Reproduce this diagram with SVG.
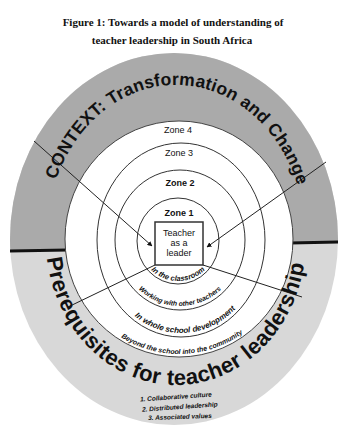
<svg xmlns="http://www.w3.org/2000/svg" width="344" height="430" viewBox="0 0 344 430">
<style>
.title{font-family:"Liberation Serif",serif;font-weight:bold;font-size:11px;fill:#111;text-anchor:middle}
.big{font-family:"Liberation Sans",Arial,sans-serif;font-weight:bold;fill:#111}
.zone{font-family:"Liberation Sans",Arial,sans-serif;font-size:9px;fill:#111;text-anchor:middle}
.arc{font-family:"Liberation Sans",Arial,sans-serif;font-weight:bold;font-style:italic;fill:#111}
.ring{fill:none;stroke:#333;stroke-width:1}
.conn{stroke:#222;stroke-width:1;fill:none}
.list{font-family:"Liberation Sans",Arial,sans-serif;font-weight:bold;font-style:italic;font-size:6.5px;fill:#111;text-anchor:middle}
</style>
<defs>
<clipPath id="upper"><polygon points="0,0 344,0 344,242 0,252"/></clipPath>
<marker id="ah" viewBox="0 0 10 10" refX="9" refY="5" markerWidth="5" markerHeight="5" orient="auto"><path d="M0,0 L10,5 L0,10 z" fill="#111"/></marker>
<path id="pTop" d="M56,180 A130,155 0 0 1 299,190"/>
<path id="pBot" d="M47,258 A130,145 0 0 0 305,258"/>
<path id="pZ1" d="M139,241 A39,40 0 0 0 217,241"/>
<path id="pZ2" d="M118,240 A62,66 0 0 0 242,240"/>
<path id="pZ3" d="M100,240 A81,93 0 0 0 262,240"/>
<path id="pZ4" d="M68,240 A111,114 0 0 0 290,240"/>
</defs>
<rect width="344" height="430" fill="#ffffff"/>
<g id="title">
<text class="title" x="173" y="26">Figure 1: Towards a model of understanding of</text>
<text class="title" x="172" y="44">teacher leadership in South Africa</text>
</g>
<g id="prerequisites">
<ellipse cx="174" cy="239" rx="164" ry="186" fill="#d8d8d8"/>
</g>
<g id="context">
<ellipse cx="174" cy="239" rx="164" ry="186" fill="#aaaaaa" clip-path="url(#upper)"/>
<line x1="10" y1="251" x2="68" y2="250" stroke="#111" stroke-width="3"/>
<line x1="290" y1="243" x2="338" y2="242" stroke="#111" stroke-width="3"/>
</g>
<g id="zone4">
<ellipse cx="179" cy="239" rx="114" ry="118" fill="#ffffff" stroke="#444" stroke-width="1"/>
<text class="zone" x="178" y="133">Zone 4</text>
</g>
<g id="zone3">
<ellipse class="ring" cx="181" cy="240" rx="84" ry="97"/>
<text class="zone" x="179" y="156">Zone 3</text>
</g>
<g id="zone2">
<ellipse class="ring" cx="180" cy="240" rx="65" ry="70"/>
<text class="zone" x="180" y="186" font-weight="bold">Zone 2</text>
</g>
<g id="zone1">
<ellipse class="ring" cx="178" cy="241" rx="41" ry="43"/>
<text class="zone" x="179" y="216" font-weight="bold">Zone 1</text>
</g>
<g id="connectors">
<line class="conn" x1="34" y1="141" x2="152" y2="246" marker-end="url(#ah)"/>
<line class="conn" x1="326" y1="162" x2="207" y2="247" marker-end="url(#ah)"/>
<line class="conn" x1="155" y1="265" x2="68" y2="307"/>
<line class="conn" x1="203" y1="265" x2="302" y2="297"/>
</g>
<g id="teacher">
<rect x="155" y="222" width="48" height="43" fill="#ffffff" stroke="#333" stroke-width="1.5"/>
<text class="zone" x="179" y="236" font-size="8.5">Teacher</text>
<text class="zone" x="179" y="246" font-size="8.5">as a</text>
<text class="zone" x="179" y="256" font-size="8.5">leader</text>
</g>
<g id="context-label">
<text class="big" font-size="17.5"><textPath href="#pTop" textLength="332" lengthAdjust="spacing">CONTEXT: Transformation and Change</textPath></text>
</g>
<g id="prerequisites-label">
<text class="big" font-size="22"><textPath href="#pBot" textLength="390" lengthAdjust="spacing">Prerequisites for teacher leadership</textPath></text>
</g>
<g id="zone-labels">
<text class="arc" font-size="7.5" text-anchor="middle"><textPath href="#pZ1" startOffset="50%">In the classroom</textPath></text>
<text class="arc" font-size="6.8" text-anchor="middle"><textPath href="#pZ2" startOffset="50%">Working with other teachers</textPath></text>
<text class="arc" font-size="8" text-anchor="middle"><textPath href="#pZ3" startOffset="52%">In whole school development</textPath></text>
<text class="arc" font-size="7" text-anchor="middle"><textPath href="#pZ4" startOffset="51%">Beyond the school into the community</textPath></text>
</g>
<g id="list">
<text class="list" x="176" y="399" transform="rotate(-4 176 399)">1. Collaborative culture</text>
<text class="list" x="180" y="409" transform="rotate(-4 180 409)">2. Distributed leadership</text>
<text class="list" x="180" y="419" transform="rotate(-2 180 419)">3. Associated values</text>
</g>
</svg>
